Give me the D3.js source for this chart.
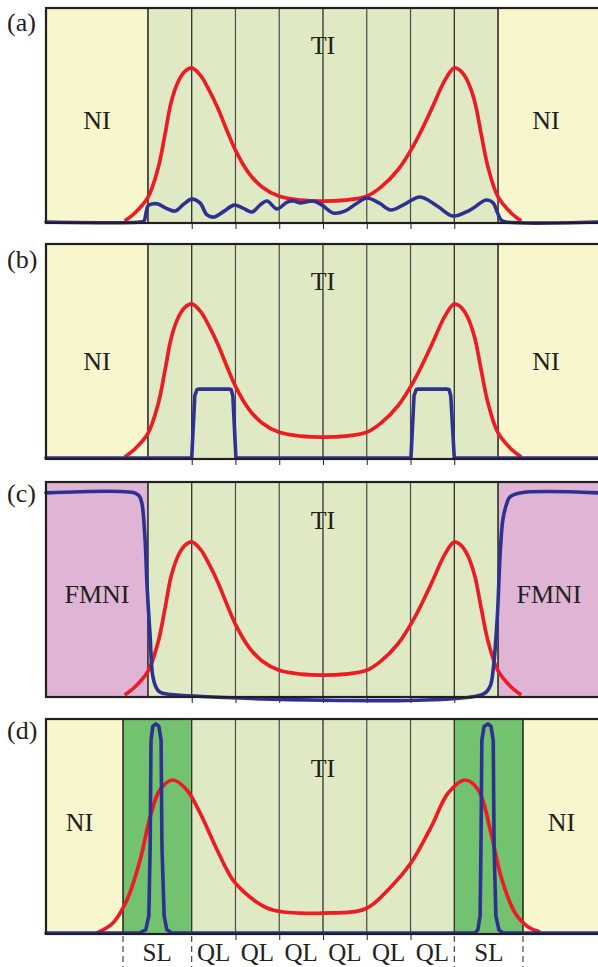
<!DOCTYPE html>
<html>
<head>
<meta charset="utf-8">
<script src="https://cdn.jsdelivr.net/npm/d3@7"></script>
<style>
  body { margin: 0; background: #fff; }
  svg { display: block; }
  text { font-family: "Liberation Serif", "Times New Roman", serif; fill: #231f20; }
</style>
</head>
<body>
<div id="chart"></div>
<script>
// x in layer units (0 = slab centre, one QL = 1), y in % of panel height

const panelNames = ['(a)', '(b)', '(c)', '(d)'];

// region boundaries per panel: [from, to, kind]
const regionsA = [[-6.33, -4, 'NI'], [-4, 4, 'TI'], [4, 6.33, 'NI']];
const regionsB = [[-6.33, -4, 'NI'], [-4, 4, 'TI'], [4, 6.33, 'NI']];
const regionsC = [[-6.33, -4, 'FMNI'], [-4, 4, 'TI'], [4, 6.33, 'FMNI']];
const regionsD = [[-6.33, -4.57, 'NI'], [-4.57, -3, 'SL'], [-3, 3, 'TI'], [3, 4.57, 'SL'], [4.57, 6.33, 'NI']];

// vertical layer lines
const linesABC = [-4, -3, -2, -1, 0, 1, 2, 3, 4];
const linesD = [-4.57, -3, -2, -1, 0, 1, 2, 3, 4.57];
const ticksABC = [-3, -2, -1, 0, 1, 2, 3];
const ticksD = [-2, -1, 0, 1, 2];
const dashedD = [-4.57, -3, 3, 4.57];

// bottom labels under (d)
const layerLabels = ['SL', 'QL', 'QL', 'QL', 'QL', 'QL', 'QL', 'SL'];
const layerLabelPos = [-3.79, -2.5, -1.5, -0.5, 0.5, 1.5, 2.5, 3.79];

// red curve, panels (a)-(c)
const redTI = [
  [-4.53, 0.5], [-4.3, 4.2], [-4.0, 11.5], [-3.77, 25], [-3.61, 41], [-3.47, 56],
  [-3.3, 66], [-3.15, 70.5], [-3.0, 72], [-2.8, 68.5], [-2.6, 61.5], [-2.4, 53],
  [-2.2, 43], [-2.0, 33.5], [-1.7, 23], [-1.4, 16.5], [-1.0, 12], [-0.5, 10.2],
  [0, 9.8],
  [0.5, 10.2], [1.0, 12], [1.33, 16.4], [1.71, 24.3], [2.1, 36.9], [2.47, 52.3],
  [2.79, 66.4], [3.0, 72], [3.15, 70.5], [3.3, 66], [3.47, 56], [3.61, 41.6],
  [3.77, 25.7], [4.0, 11.7], [4.3, 4.2], [4.53, 0.5]
];

// red curve, panel (d)
const redD = [
  [-5.17, 0], [-4.8, 4.7], [-4.48, 15.4], [-4.18, 34.1], [-3.95, 54.2], [-3.73, 66.8],
  [-3.43, 71.5], [-3.11, 66.8], [-2.81, 56.1], [-2.42, 38.8], [-2.06, 24.8],
  [-1.67, 16.8], [-1.28, 11.7], [-0.91, 9.8], [-0.53, 9.3], [0, 9.3],
  [0.96, 11.2], [1.55, 21.5], [2.01, 32.7], [2.47, 49.5], [2.86, 65.4],
  [3.25, 71.5], [3.55, 66.8], [3.84, 46.7], [4.07, 26.2], [4.39, 9.3],
  [4.69, 2.8], [4.96, 0.5]
];

// blue curves
const blueA = [
  [-6.33, 0], [-4.18, 0], [-4.09, 0.5], [-4.05, 3.7], [-4.0, 7.5], [-3.91, 8.4],
  [-3.77, 8.4], [-3.59, 6.5], [-3.38, 5.1], [-3.18, 8.4], [-3.0, 10.7], [-2.81, 8.9],
  [-2.65, 3.3], [-2.49, 2.3], [-2.26, 5.1], [-2.03, 7.9], [-1.83, 6.5], [-1.62, 4.7],
  [-1.44, 7.9], [-1.28, 9.8], [-1.05, 6.1], [-0.82, 9.3], [-0.66, 9.8], [-0.53, 8.9],
  [-0.23, 9.8], [-0.02, 7.9], [0.23, 4.2], [0.5, 5.1], [0.75, 8.4], [1.0, 11.2],
  [1.28, 8.9], [1.55, 5.6], [1.87, 8.4], [2.22, 11.7], [2.61, 7.5], [2.97, 2.8],
  [3.36, 5.6], [3.73, 10.3], [3.89, 8.9], [3.98, 4.7], [4.07, 0.9], [4.18, 0], [6.33, 0]
];

const blueB = [
  [-6.33, 0], [-3.0, 0], [-2.93, 29], [-2.88, 32], [-2.83, 32.2], [-2.15, 32.2],
  [-2.1, 32], [-2.06, 29], [-1.99, 0],
  [2.01, 0], [2.08, 29], [2.13, 32], [2.17, 32.2], [2.83, 32.2], [2.88, 32],
  [2.92, 29], [3.0, 0], [6.33, 0]
];

const blueC = [
  [-6.33, 94.9], [-4.3, 94.9], [-4.2, 93.5], [-4.14, 90.2], [-4.07, 74.4], [-4.02, 51.2],
  [-3.95, 27.9], [-3.89, 9.3], [-3.8, 3.5], [-3.73, 1.9], [-3.57, 0.9],
  [3.66, 0.9], [3.82, 4.7], [3.89, 12.6], [3.98, 35.8], [4.05, 67], [4.11, 82.3],
  [4.2, 90], [4.27, 93], [4.5, 94.9], [6.33, 94.9]
];

const blueD = [
  [-6.33, 0], [-4.2, 0], [-4.05, 1.5], [-3.98, 8], [-3.95, 40], [-3.93, 90],
  [-3.89, 96.5], [-3.82, 97.7], [-3.75, 96.5], [-3.7, 90], [-3.68, 40], [-3.63, 8],
  [-3.57, 1.5], [-3.45, 0],
  [3.47, 0], [3.54, 1.5], [3.59, 8], [3.61, 40], [3.63, 90], [3.68, 96.5],
  [3.77, 97.7], [3.84, 96.5], [3.89, 90], [3.91, 40], [3.95, 8], [4.02, 1.5],
  [4.11, 0], [6.33, 0]
];

// ---- layout & style ----
const width = 598, height = 967;
const panelH = 215;
const colors = {
  NI: '#f8f6cc', TI: '#dfeac4', FMNI: '#dfb4d4', SL: '#73c26f',
  red: '#ed1c24', blue: '#2e3192', ink: '#231f20', grid: '#4a4a4a'
};

const panels = [
  { name: panelNames[0], top: 8, regions: regionsA, lines: linesABC, ticks: ticksABC, red: redTI, blue: blueA,
    nameY: 23, tiY: 46, sideY: 121, sideDx: [0, -2], blueSmooth: true },
  { name: panelNames[1], top: 244, regions: regionsB, lines: linesABC, ticks: ticksABC, red: redTI, blue: blueB,
    nameY: 24, tiY: 46, sideY: 126, sideDx: [0, -2], blueSmooth: false },
  { name: panelNames[2], top: 482, regions: regionsC, lines: linesABC, ticks: ticksABC, red: redTI, blue: blueC,
    nameY: 20, tiY: 47, sideY: 121, sideDx: [0, 1], blueSmooth: true },
  { name: panelNames[3], top: 719, regions: regionsD, lines: linesD, ticks: ticksD, red: redD, blue: blueD,
    nameY: 20, tiY: 58, sideY: 112, sideDx: [-5, 1], blueSmooth: false }
];

const x = d3.scaleLinear().domain([-6.33, 6.33]).range([46, 600]);

const svg = d3.select('#chart').append('svg')
  .attr('width', width)
  .attr('height', height);

panels.forEach(p => {
  const y = d3.scaleLinear().domain([0, 100]).range([p.top + panelH - 1, p.top]);
  const g = svg.append('g');

  // coloured regions
  g.selectAll('rect.region')
    .data(p.regions)
    .join('rect')
    .attr('class', 'region')
    .attr('x', d => x(d[0]))
    .attr('y', p.top)
    .attr('width', d => x(d[1]) - x(d[0]))
    .attr('height', panelH)
    .attr('fill', d => colors[d[2]]);

  // layer lines
  g.selectAll('line.layer')
    .data(p.lines)
    .join('line')
    .attr('class', 'layer')
    .attr('x1', d => x(d)).attr('x2', d => x(d))
    .attr('y1', p.top).attr('y2', p.top + panelH)
    .attr('stroke', d => (d === 0 || Math.abs(d) === 3 || Math.abs(d) >= 4) ? colors.ink : colors.grid)
    .attr('stroke-width', d => Math.abs(d) >= 4 ? 1.5 : 1.2);

  // small ticks under the frame
  const axis = d3.axisBottom(x).tickValues(p.ticks).tickSize(6).tickFormat('');
  const ax = g.append('g')
    .attr('transform', `translate(0,${p.top + panelH})`)
    .call(axis);
  ax.select('.domain').remove();
  ax.selectAll('.tick line').attr('stroke', colors.ink).attr('stroke-width', 1);

  // curves
  const lineSmooth = d3.line()
    .x(d => x(d[0])).y(d => y(d[1]))
    .curve(d3.curveCatmullRom.alpha(0.5));
  const lineSharp = d3.line()
    .x(d => x(d[0])).y(d => y(d[1]))
    .curve(d3.curveLinear);

  g.append('path')
    .datum(p.red)
    .attr('d', lineSmooth)
    .attr('fill', 'none')
    .attr('stroke', colors.red)
    .attr('stroke-width', 3.7)
    .attr('stroke-linejoin', 'round');

  g.append('path')
    .datum(p.blue)
    .attr('d', p.blueSmooth ? lineSmooth : lineSharp)
    .attr('fill', 'none')
    .attr('stroke', colors.blue)
    .attr('stroke-width', 3.6)
    .attr('stroke-linejoin', 'round')
    .attr('stroke-linecap', 'round');

  // frame
  g.append('rect')
    .attr('x', 46).attr('y', p.top)
    .attr('width', 554).attr('height', panelH)
    .attr('fill', 'none')
    .attr('stroke', colors.ink)
    .attr('stroke-width', 2.2);

  // texts
  g.append('text')
    .attr('x', 7).attr('y', p.top + p.nameY)
    .attr('font-size', 26)
    .text(p.name);

  g.append('text')
    .attr('x', x(0)).attr('y', p.top + p.tiY)
    .attr('text-anchor', 'middle')
    .attr('font-size', 26)
    .text('TI');

  const sides = p.regions.filter(r => r[2] === 'NI' || r[2] === 'FMNI');
  g.selectAll('text.side')
    .data(sides)
    .join('text')
    .attr('class', 'side')
    .attr('x', (d, i) => (x(d[0]) + Math.min(x(d[1]), 598)) / 2 + p.sideDx[i])
    .attr('y', p.top + p.sideY)
    .attr('text-anchor', 'middle')
    .attr('font-size', 26)
    .text(d => d[2]);
});

// under (d): dashed layer borders and layer names
const dBottom = panels[3].top + panelH;
svg.selectAll('line.dash')
  .data(dashedD)
  .join('line')
  .attr('class', 'dash')
  .attr('x1', d => x(d)).attr('x2', d => x(d))
  .attr('y1', dBottom + 2).attr('y2', height)
  .attr('stroke', colors.ink)
  .attr('stroke-width', 1)
  .attr('stroke-dasharray', '6,4');

svg.selectAll('text.layerLabel')
  .data(layerLabels)
  .join('text')
  .attr('class', 'layerLabel')
  .attr('x', (d, i) => x(layerLabelPos[i]))
  .attr('y', dBottom + 27)
  .attr('text-anchor', 'middle')
  .attr('font-size', 25)
  .text(d => d);
</script>
</body>
</html>
